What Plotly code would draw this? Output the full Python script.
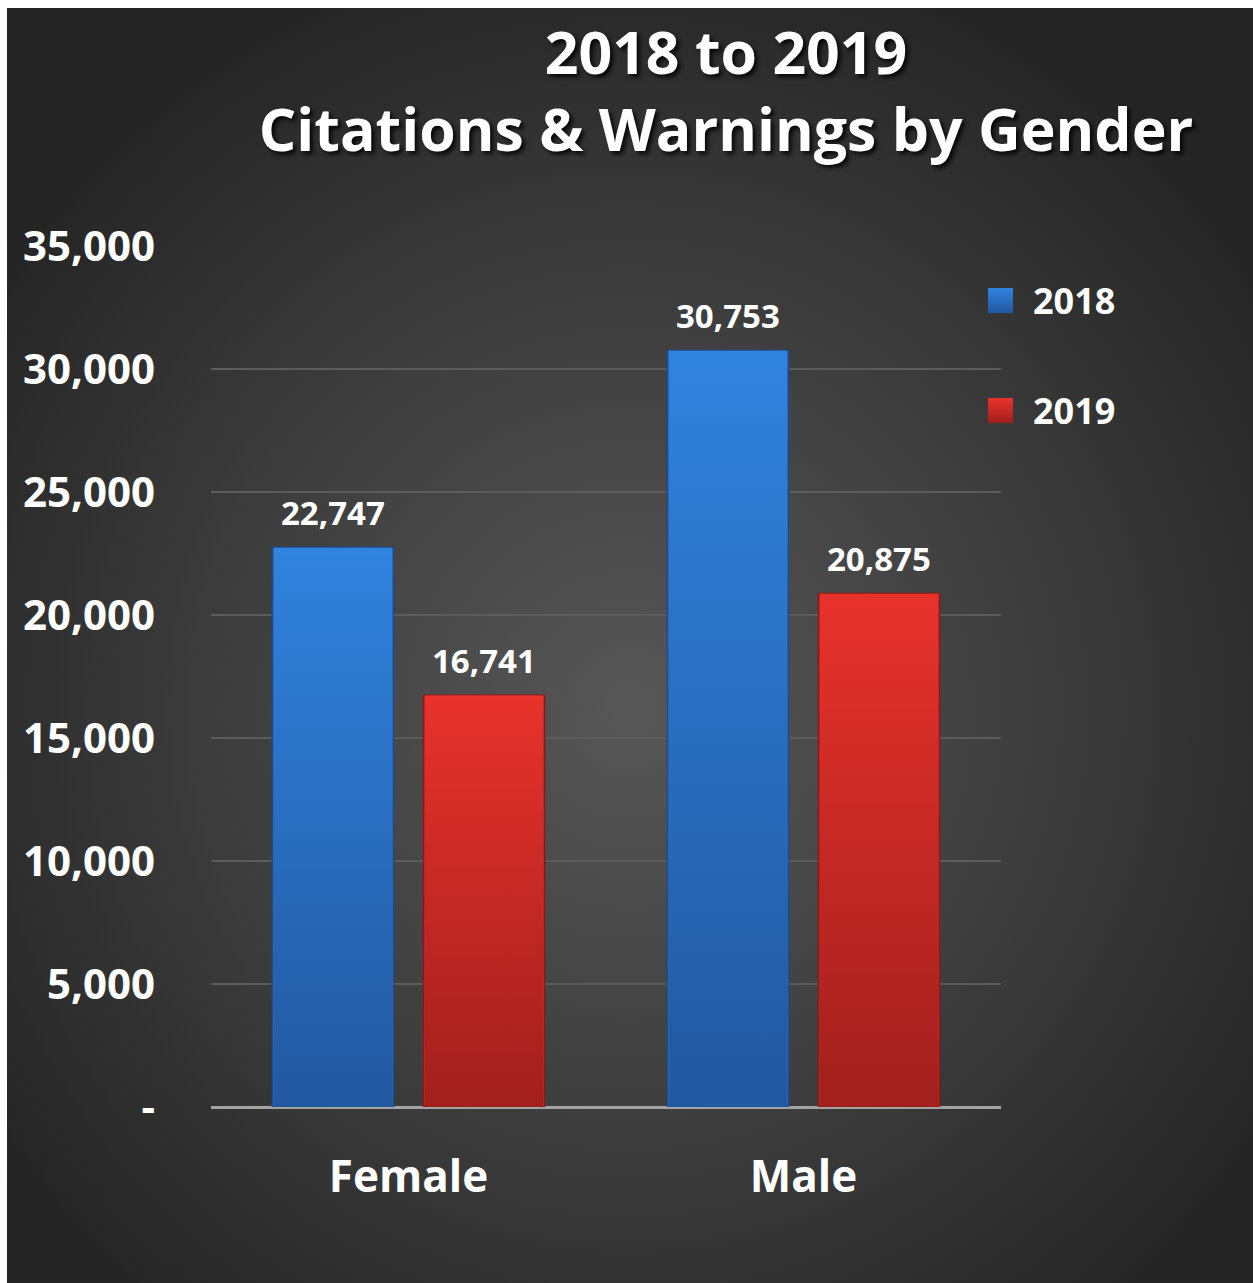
import base64
import plotly.graph_objects as go

# Chart data
categories = ["Female", "Male"]
series_names = ["2018", "2019"]
values_2018 = [22747, 30753]
values_2019 = [16741, 20875]
y_tickvals = [0, 5000, 10000, 15000, 20000, 25000, 30000, 35000]
y_ticktext = ["-", "5,000", "10,000", "15,000", "20,000", "25,000", "30,000", "35,000"]

series_values = [values_2018, values_2019]
series_colors = ["#2b6ec6", "#cb2926"]
series_lines = ["#1d4b8a", "#8a1a18"]
# vertical shading (top, bottom) for each series
series_shades = [("#3083de", "#2258a0"), ("#e8322c", "#a11f1d")]

W, H = 1253, 1283
M_L, M_R, M_T, M_B = 211, 252, 246, 176
PW, PH = W - M_L - M_R, H - M_T - M_B

BARGAP = 0.235
BARGROUPGAP = 0.199
FONT = "Open Sans"


def px_x(x):
    return (x - M_L) / PW


def px_y(y):
    return 1 - (y - M_T) / PH


def svg_uri(svg):
    return "data:image/svg+xml;base64," + base64.b64encode(svg.encode()).decode()


# dark radial backdrop
bg_svg = f"""<svg xmlns='http://www.w3.org/2000/svg' width='{W}' height='{H}'>
<defs><radialGradient id='g' cx='50%' cy='55%' r='62%'>
<stop offset='0' stop-color='#575757'/>
<stop offset='0.55' stop-color='#3c3c3c'/>
<stop offset='1' stop-color='#242424'/>
</radialGradient></defs>
<rect x='0' y='0' width='{W}' height='{H}' fill='url(#g)'/>
</svg>"""


def shade_svg(top, bottom):
    return svg_uri(f"""<svg xmlns='http://www.w3.org/2000/svg' width='100' height='100' preserveAspectRatio='none'>
<defs><linearGradient id='s' x1='0' y1='0' x2='0' y2='1'>
<stop offset='0' stop-color='{top}'/><stop offset='1' stop-color='{bottom}'/>
</linearGradient></defs>
<rect x='0' y='0' width='100' height='100' fill='url(#s)'/>
</svg>""")


fig = go.Figure()

for name, vals, col, lcol in zip(series_names, series_values, series_colors, series_lines):
    fig.add_trace(go.Bar(
        x=categories, y=vals, name=name,
        marker=dict(color=col, line=dict(color=lcol, width=1.5)),
        showlegend=False, hoverinfo="x+y+name",
    ))

n = len(series_names)
slot = (1 - BARGAP) / n
bar_w = slot * (1 - BARGROUPGAP)

images = [dict(
    source=svg_uri(bg_svg), xref="paper", yref="paper",
    x=px_x(7), y=px_y(8), sizex=(W - 7) / PW, sizey=(H - 8) / PH,
    xanchor="left", yanchor="top", sizing="stretch", layer="below",
)]

annotations = []
for i, (vals, shade) in enumerate(zip(series_values, series_shades)):
    off = -(1 - BARGAP) / 2 + slot * (i + 0.5)
    src = shade_svg(shade[0], shade[1])
    for j, v in enumerate(vals):
        # vertical shading laid over each bar, inset so the bar outline stays visible
        images.append(dict(
            source=src, xref="x", yref="y",
            x=j + off - bar_w / 2 + 0.003, y=v, sizex=bar_w - 0.006, sizey=v,
            xanchor="left", yanchor="top", sizing="stretch", layer="above",
        ))
        # value label above the bar
        annotations.append(dict(
            x=j + off, y=v, xref="x", yref="y", text=f"{v:,}",
            showarrow=False, yanchor="bottom", yshift=10,
            font=dict(family=FONT, size=33, color="white", weight="bold"),
        ))

# legend drawn as squares with labels
leg_x0, leg_y0, leg_step, sq = 988, 288, 110, 25
for i, (name, shade) in enumerate(zip(series_names, series_shades)):
    top = leg_y0 + i * leg_step
    images.append(dict(
        source=shade_svg(shade[0], shade[1]), xref="paper", yref="paper",
        x=px_x(leg_x0), y=px_y(top), sizex=sq / PW, sizey=sq / PH,
        xanchor="left", yanchor="top", sizing="stretch", layer="above",
    ))
    annotations.append(dict(
        x=px_x(leg_x0 + 43), y=px_y(top + sq / 2), xref="paper", yref="paper",
        text=name, showarrow=False, xanchor="left", yanchor="middle",
        font=dict(family=FONT, size=36, color="white", weight="bold"),
    ))

fig.update_layout(
    width=W, height=H, autosize=False,
    margin=dict(l=M_L, r=M_R, t=M_T, b=M_B, pad=0),
    paper_bgcolor="white",
    plot_bgcolor="rgba(0,0,0,0)",
    barmode="group", bargap=BARGAP, bargroupgap=BARGROUPGAP,
    title=dict(
        text="2018 to 2019<br>Citations & Warnings by Gender",
        x=726 / W, xanchor="center", xref="container",
        y=1 - 74 / H, yanchor="top", yref="container",
        font=dict(family=FONT, size=59, color="white", weight="bold",
                  shadow="3px 3px 4px rgba(0,0,0,0.85)"),
    ),
    xaxis=dict(
        showgrid=False, showline=False, ticks="",
        tickfont=dict(family=FONT, size=44, color="white", weight="bold"),
        ticklabelstandoff=40,
    ),
    yaxis=dict(
        range=[0, 35000], tickvals=y_tickvals, ticktext=y_ticktext,
        showgrid=True, gridcolor="#5c5c5c", gridwidth=1.5,
        zeroline=True, zerolinecolor="#a3a3a3", zerolinewidth=3,
        showline=False, ticks="",
        tickfont=dict(family=FONT, size=42, color="white", weight="bold"),
        ticklabelstandoff=55,
    ),
    images=images,
    annotations=annotations,
)

fig.write_html("out.html")
